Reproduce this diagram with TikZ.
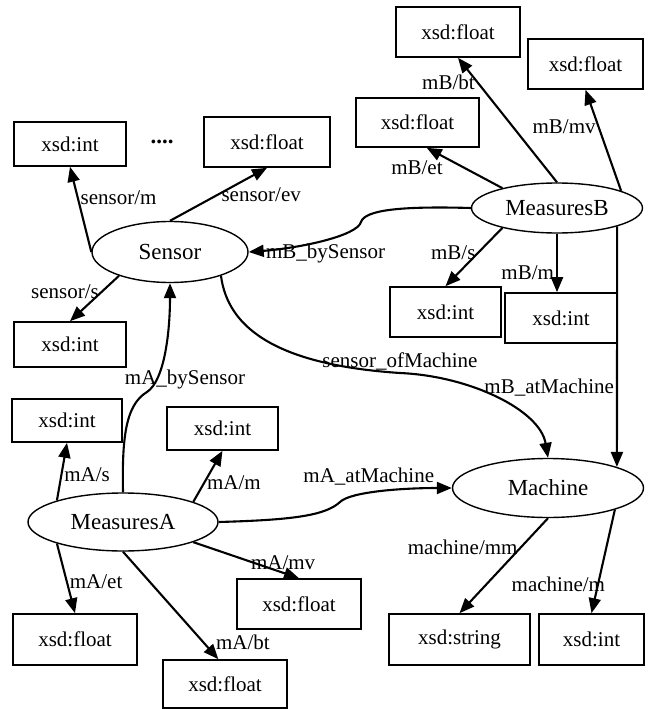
\documentclass[tikz,border=0pt]{standalone}
\usepackage{fontspec}
\setmainfont{Liberation Serif}
\usetikzlibrary{arrows.meta,shapes.geometric}

\tikzset{
    cls/.style={draw,ellipse,line width=1.4pt,inner sep=0pt,font={\fontsize{23}{27}\selectfont}},
    lit/.style={draw,rectangle,line width=1.6pt,inner sep=0pt,minimum width=124pt,minimum height=50pt,font={\fontsize{21}{25}\selectfont}},
    tag/.style={inner sep=2pt,font={\fontsize{21}{25}\selectfont}},
    rel/.style={->,line width=2.1pt}
}

\begin{document}
\begin{tikzpicture}[x=1pt,y=-1pt,>={Triangle[length=15pt,width=12pt]}]

            \useasboundingbox (0,0) rectangle (648,709);

            % classes
            \node[cls,minimum width=156pt,minimum height=61pt] (Sensor) at (170,252) {Sensor};
            \node[cls,minimum width=171pt,minimum height=50pt] (MeasuresB) at (557,208) {MeasuresB};
            \node[cls,minimum width=190pt,minimum height=58pt] (MeasuresA) at (123,522) {MeasuresA};
            \node[cls,minimum width=191pt,minimum height=59pt] (Machine) at (548,488) {Machine};

            % literals
            \node[lit,minimum width=112pt,minimum height=44pt] (sInt1) at (70,144) {xsd:int};
            \node[lit,minimum width=126pt] (sFloat) at (267,142) {xsd:float};
            \node[lit,minimum width=112pt,minimum height=45pt] (sInt2) at (70,344.5) {xsd:int};
            \node[font={\bfseries\fontsize{23}{27}\selectfont}] (dots) at (162,142) {....};

            \node[lit] (bFloat1) at (458,32) {xsd:float};
            \node[lit,minimum width=115pt] (bFloat2) at (585.5,64) {xsd:float};
            \node[lit,minimum width=123pt,minimum height=49pt] (bFloat3) at (417.5,122.5) {xsd:float};
            \node[lit,minimum width=111pt] (bInt1) at (445.5,312) {xsd:int};
            \node[lit,minimum width=112pt] (bInt2) at (561,318) {xsd:int};

            \node[lit,minimum width=110pt,minimum height=43pt] (aInt1) at (67,420.5) {xsd:int};
            \node[lit,minimum width=111pt,minimum height=43pt] (aInt2) at (222.5,428.5) {xsd:int};
            \node[lit,minimum height=51pt] (aFloat1) at (75,639.5) {xsd:float};
            \node[lit] (aFloat2) at (299,604) {xsd:float};
            \node[lit,minimum height=48pt] (aFloat3) at (225,684) {xsd:float};

            \node[lit,minimum width=141pt,minimum height=51pt] (mString) at (459.5,639.5) {xsd:string};
            \node[lit,minimum width=105pt,minimum height=51pt] (mInt) at (591.5,639.5) {xsd:int};

            % properties
            \path[rel] (Sensor.west) edge node[tag,pos=.64,anchor=west] {sensor/m} (sInt1.south)
                       (Sensor.north) edge node[tag,pos=.5,anchor=west] {sensor/ev} (sFloat.south)
                       (Sensor.205) edge node[tag,pos=.35,anchor=east] {sensor/s} (sInt2.north);

            \path[rel] (MeasuresB.north) edge node[tag,pos=.8,anchor=east] {mB/bt} (bFloat1.south)
                       (MeasuresB.15) edge node[tag,pos=.63,anchor=east] {mB/mv} (bFloat2.south)
                       (MeasuresB.160) edge node[tag,pos=.75,anchor=north east] {mB/et} (bFloat3.-70)
                       (MeasuresB.200) edge node[tag,pos=.42,anchor=east] {mB/s} (bInt1.north)
                       (MeasuresB.south) edge node[tag,pos=.67,anchor=east] {mB/m} (MeasuresB.south |- bInt2.north)
                       (MeasuresB.-17) edge node[tag,pos=.67,anchor=east] {mB\_atMachine} (Machine.17);

            \path[rel] (MeasuresA.162) edge node[tag,pos=.44,anchor=west] {mA/s} (aInt1.south)
                       (MeasuresA.16) edge node[tag,pos=.37,anchor=west] {mA/m} (aInt2.south)
                       (MeasuresA.-16) edge node[tag,pos=.85,anchor=south] {mA/mv} (aFloat2.north)
                       (MeasuresA.198) edge node[tag,pos=.55,anchor=west] {mA/et} (aFloat1.north)
                       (MeasuresA.south) edge node[tag,pos=.84,anchor=west,xshift=10pt] {mA/bt} (aFloat3.105);

            \path[rel] (Machine.south) edge node[tag,pos=.31,anchor=east] {machine/mm} (mString.north)
                       (Machine.-18) edge node[tag,pos=.72,anchor=east,xshift=10pt] {machine/m} (mInt.north);

            % object properties
            \draw[rel] (MeasuresB.west) .. controls (400,206) and (365,210) .. (361,222)
                       .. controls (357,236) and (300,248) .. (Sensor.east) node[tag,pos=.5,anchor=north,xshift=3pt] {mB\_bySensor};

            \draw[rel] (Sensor.-25) .. controls (228,330) and (280,365) .. (400,373) node[tag,pos=1,anchor=south] {sensor\_ofMachine}
                       .. controls (470,376) and (540,410) .. (Machine.north);

            \draw[rel] (MeasuresA.north) .. controls (122,440) and (125,405) .. (147,392)
                       .. controls (165,380) and (170,330) .. (Sensor.south) node[tag,pos=.1,xshift=33pt,yshift=8pt] {mA\_bySensor};

            \draw[rel] (MeasuresA.east) .. controls (290,520) and (325,516) .. (340,502)
                       .. controls (350,492) and (400,488) .. (Machine.west) node[tag,pos=.4,anchor=south,yshift=5pt] {mA\_atMachine};

        \end{tikzpicture}
\end{document}
